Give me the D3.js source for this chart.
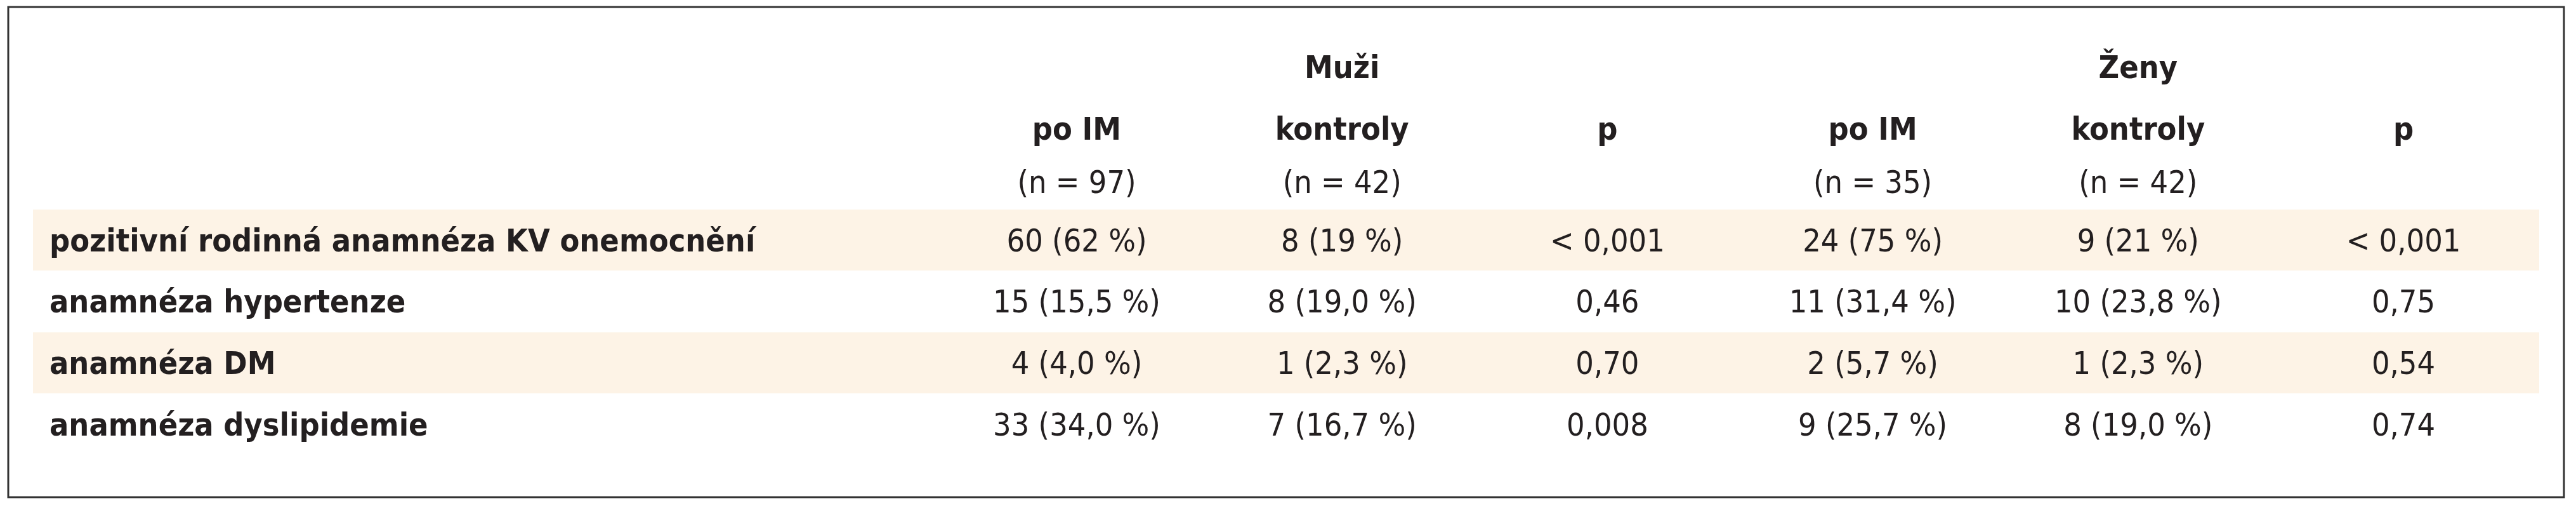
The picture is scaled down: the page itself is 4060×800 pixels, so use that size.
<!DOCTYPE html>
<html><head><meta charset="utf-8">
<script src="https://cdn.jsdelivr.net/npm/d3@7"></script>
<style>body{margin:0;background:#fff}</style>
</head><body><div id="hook"></div>
<script>
var rowLabels = ["pozitivní rodinná anamnéza KV onemocnění", "anamnéza hypertenze", "anamnéza DM", "anamnéza dyslipidemie"];
var groups = ["Muži", "Ženy"];
var colHeads = ["po IM", "kontroly", "p", "po IM", "kontroly", "p"];
var colN = ["(n = 97)", "(n = 42)", "", "(n = 35)", "(n = 42)", ""];
var cells = [
    ["60 (62 %)", "8 (19 %)", "< 0,001", "24 (75 %)", "9 (21 %)", "< 0,001"],
    ["15 (15,5 %)", "8 (19,0 %)", "0,46", "11 (31,4 %)", "10 (23,8 %)", "0,75"],
    ["4 (4,0 %)", "1 (2,3 %)", "0,70", "2 (5,7 %)", "1 (2,3 %)", "0,54"],
    ["33 (34,0 %)", "7 (16,7 %)", "0,008", "9 (25,7 %)", "8 (19,0 %)", "0,74"]
];

var w = 4060, h = 800;
var font = "'Liberation Sans Narrow', 'DejaVu Sans Condensed', sans-serif";
var fs = 50;

var svg = d3.select("#hook").append("svg")
    .attr("width", w).attr("height", h)
    .style("font-family", font).style("font-size", fs + "px").style("fill", "#231f20");

svg.append("rect").attr("x", 13).attr("y", 11).attr("width", 4028).attr("height", 772)
    .attr("fill", "none").attr("stroke", "#333").attr("stroke-width", 3);

var colX = d3.scalePoint().domain(d3.range(6)).range([1697, 3788]);
var rowY = d3.scalePoint().domain(d3.range(4)).range([378, 668]);
var bandH = 96;

svg.selectAll("rect.band").data([0, 2]).enter().append("rect").attr("class", "band")
    .attr("x", 52).attr("width", 3950)
    .attr("y", function (d) { return rowY(d) - bandH / 2; })
    .attr("height", bandH).attr("fill", "#fdf3e6");

// headers
svg.selectAll("text.grp").data(groups).enter().append("text").attr("class", "grp")
    .attr("x", function (d, i) { return colX(i * 3 + 1); }).attr("y", 105)
    .attr("dy", "0.35em").attr("text-anchor", "middle").attr("font-weight", "bold").text(function (d) { return d; });
svg.selectAll("text.head").data(colHeads).enter().append("text").attr("class", "head")
    .attr("x", function (d, i) { return colX(i); }).attr("y", 202)
    .attr("dy", "0.35em").attr("text-anchor", "middle").attr("font-weight", "bold").text(function (d) { return d; });
svg.selectAll("text.n").data(colN).enter().append("text").attr("class", "n")
    .attr("x", function (d, i) { return colX(i); }).attr("y", 286)
    .attr("dy", "0.35em").attr("text-anchor", "middle").text(function (d) { return d; });

var rows = svg.selectAll("g.row").data(cells).enter().append("g")
    .attr("transform", function (d, i) { return "translate(0," + rowY(i) + ")"; });
rows.append("text").attr("x", 78).attr("dy", "0.35em").attr("font-weight", "bold")
    .text(function (d, i) { return rowLabels[i]; });
rows.selectAll("text.cell").data(function (d) { return d; }).enter().append("text").attr("class", "cell")
    .attr("x", function (d, i) { return colX(i); }).attr("dy", "0.35em").attr("text-anchor", "middle")
    .text(function (d) { return d; });
</script></body></html>
